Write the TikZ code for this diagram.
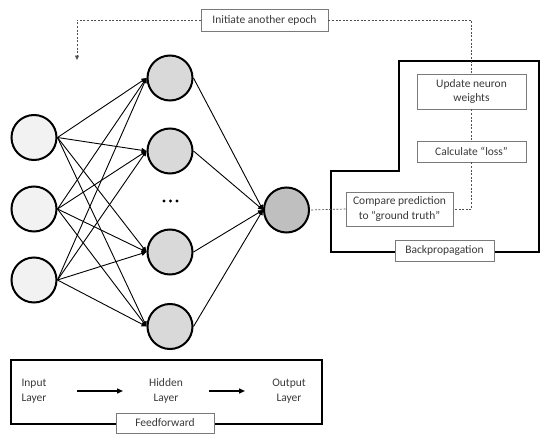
\documentclass[tikz,border=0pt]{standalone}
\usepackage{fontspec}
\setmainfont{Carlito}
\usetikzlibrary{arrows.meta}
\definecolor{infill}{HTML}{F2F2F2}
\definecolor{hidfill}{HTML}{D9D9D9}
\definecolor{outfill}{HTML}{BFBFBF}
\definecolor{txt}{HTML}{3A3A3A}
\definecolor{boxline}{HTML}{7A7A7A}
\definecolor{dashcol}{HTML}{505050}
\tikzset{
  neuron/.style={circle, draw=black, line width=2pt, minimum size=45pt, inner sep=0pt},
  inneuron/.style={neuron, fill=infill},
  hidneuron/.style={neuron, fill=hidfill},
  outneuron/.style={neuron, fill=outfill},
  edge/.style={line width=0.9pt, -{Triangle[length=5pt,width=4.5pt]}},
  lbox/.style={draw=boxline, line width=0.8pt, fill=white, text=txt, align=center,
    font=\fontsize{11.5}{14.5}\selectfont, inner sep=0pt},
  plain/.style={text=txt, align=center, font=\fontsize{11.5}{14.5}\selectfont, inner sep=0pt},
  dashline/.style={draw=dashcol, line width=0.7pt, dash pattern=on 2pt off 1.6pt},
  frame/.style={draw=black, line width=1.6pt},
  ffarrow/.style={line width=1.4pt, -{Triangle[length=6pt,width=5pt]}}
}
\begin{document}
\begin{tikzpicture}[x=1pt,y=-1pt]
\useasboundingbox (0,0) rectangle (550,442);
% frames
\draw[frame] (399,61) -- (539,61) -- (539,252) -- (331,252) -- (331,171) -- (399,171) -- cycle;
\draw[frame] (11,360) rectangle (322,424);
% neurons
\node[inneuron] (in1) at (34,137.5) {};
\node[inneuron] (in2) at (34,209) {};
\node[inneuron] (in3) at (34,280) {};
\node[hidneuron] (h1) at (170,78) {};
\node[hidneuron] (h2) at (170,151) {};
\node[hidneuron] (h3) at (170,252) {};
\node[hidneuron] (h4) at (170,326.5) {};
\node[outneuron] (out) at (286.5,210) {};
% dots
\fill (164,201) circle (1.7pt) (170.5,201) circle (1.7pt) (177,201) circle (1.7pt);
% edges
\foreach \i in {in1,in2,in3}{
  \foreach \h in {h1,h2,h3,h4}{
    \draw[edge] (\i.east) -- (\h.west);
  }
}
\foreach \h in {h1,h2,h3,h4}{
  \draw[edge] (\h.east) -- (out.west);
}
% boxes
\node[lbox, minimum width=127pt, minimum height=22pt] (init) at (264.5,20) {Initiate another epoch};
\node[lbox, minimum width=109pt, minimum height=35pt] (update) at (471.5,91.5) {Update neuron\\weights};
\node[lbox, minimum width=109pt, minimum height=21pt] (calc) at (471.5,151.5) {Calculate “loss”};
\node[lbox, minimum width=107pt, minimum height=34pt] (compare) at (399.5,209) {Compare prediction\\to “ground truth”};
\node[lbox, minimum width=99pt, minimum height=21pt] (bp) at (444.5,250.5) {Backpropagation};
\node[lbox, minimum width=98pt, minimum height=20pt] (ff) at (165,423) {Feedforward};
% feedforward labels
\node[plain] (inl) at (34,391) {Input\\Layer};
\node[plain] (hl) at (166,391) {Hidden\\Layer};
\node[plain] (outl) at (289,391) {Output\\Layer};
\draw[ffarrow, shorten <=43pt, shorten >=43pt] (inl.center) -- (hl.center);
\draw[ffarrow, shorten <=43pt, shorten >=44pt] (hl.center) -- (outl.center);
% dashed connectors
\coordinate (tl) at (77,60);
\draw[dashline, -{Triangle[length=4.5pt,width=4pt]}] (init.west) -| (tl);
\draw[dashline] (init.east) -| (update.north);
\draw[dashline] (update.south) -- (calc.north);
\draw[dashline] (calc.south) |- (compare.east);
\draw[dashline] (compare.west) -- (out.east);
\end{tikzpicture}
\end{document}
